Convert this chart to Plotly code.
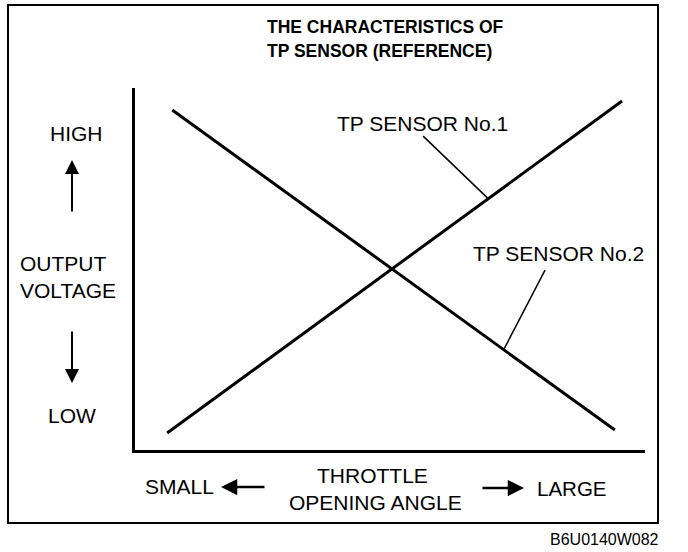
import plotly.graph_objects as go

# ---- data (arbitrary units, 0-100 on both axes) ----
sensor1_x = [6.3, 95.5]
sensor1_y = [4.7, 96.4]
sensor2_x = [7.3, 94.1]
sensor2_y = [93.9, 5.5]
leader1_x = [56.5, 69.2]
leader1_y = [86.7, 69.5]
leader2_x = [80.4, 72.4]
leader2_y = [49.7, 28.0]

title_lines = ["THE CHARACTERISTICS OF", "TP SENSOR (REFERENCE)"]
series_names = ["TP SENSOR No.1", "TP SENSOR No.2"]
y_labels = ["HIGH", "OUTPUT", "VOLTAGE", "LOW"]
x_labels = ["SMALL", "THROTTLE", "OPENING ANGLE", "LARGE"]
code_label = "B6U0140W082"

FONT = "Liberation Sans, Arial, Helvetica, sans-serif"

W, H = 688, 552
L, R, T, B = 135, 43, 88, 102
PW, PH = W - L - R, H - T - B


def px(x):
    return (x - L) / PW


def py(y):
    return (H - B - y) / PH


fig = go.Figure()
for xs, ys, w in [(sensor1_x, sensor1_y, 3), (sensor2_x, sensor2_y, 3),
                  (leader1_x, leader1_y, 1.5), (leader2_x, leader2_y, 1.5)]:
    fig.add_trace(go.Scatter(x=xs, y=ys, mode="lines",
                             line=dict(color="black", width=w),
                             showlegend=False, hoverinfo="skip"))

ann = []


def text(t, x, y, size, xanchor="center", bold=False):
    ann.append(dict(text=("<b>%s</b>" % t) if bold else t, x=px(x), y=py(y),
                    xref="paper", yref="paper", xanchor=xanchor, yanchor="middle",
                    showarrow=False, font=dict(family=FONT, size=size, color="black")))


def arrow(hx, hy, tx, ty, width, size):
    ann.append(dict(text="", x=px(hx), y=py(hy), xref="paper", yref="paper",
                    ax=tx - hx, ay=ty - hy, showarrow=True, arrowhead=2,
                    arrowwidth=width, arrowsize=size, arrowcolor="black"))


text(title_lines[0], 265, 27, 17.5, "left", True)
text(title_lines[1], 265, 51, 17.5, "left", True)
text(series_names[0], 335, 123, 21, "left")
text(series_names[1], 471, 253, 21, "left")
text(y_labels[0], 76, 133, 21)
text(y_labels[1], 18, 263, 21, "left")
text(y_labels[2], 18, 290, 21, "left")
text(y_labels[3], 72, 415, 21)
text(x_labels[0], 143, 487, 21, "left")
text(x_labels[1], 372, 475, 21)
text(x_labels[2], 375, 502, 21)
text(x_labels[3], 535, 488, 20.5, "left")
ann.append(dict(text=code_label, x=px(661), y=py(539), xref="paper", yref="paper",
                xanchor="right", yanchor="middle", showarrow=False,
                font=dict(family=FONT, size=16, color="black")))

arrow(72, 160, 72, 213, 2, 1.4)
arrow(72, 383, 72, 330, 2, 1.4)
arrow(221, 487, 266, 487, 2.5, 1.3)
arrow(524, 488, 481, 488, 2.5, 1.3)

fig.update_layout(
    width=W, height=H,
    margin=dict(l=L, r=R, t=T, b=B, pad=0),
    paper_bgcolor="white", plot_bgcolor="white",
    annotations=ann,
    shapes=[dict(type="rect", xref="paper", yref="paper",
                 x0=px(8), x1=px(658), y0=py(523), y1=py(5),
                 line=dict(color="black", width=2))],
    xaxis=dict(range=[0, 100], showline=True, linecolor="black", linewidth=3,
               showgrid=False, zeroline=False, showticklabels=False, ticks=""),
    yaxis=dict(range=[0, 100], showline=True, linecolor="black", linewidth=3,
               showgrid=False, zeroline=False, showticklabels=False, ticks=""),
)

fig.write_html("out.html", config={"displayModeBar": False},
               post_script="document.body.style.margin='0';")
